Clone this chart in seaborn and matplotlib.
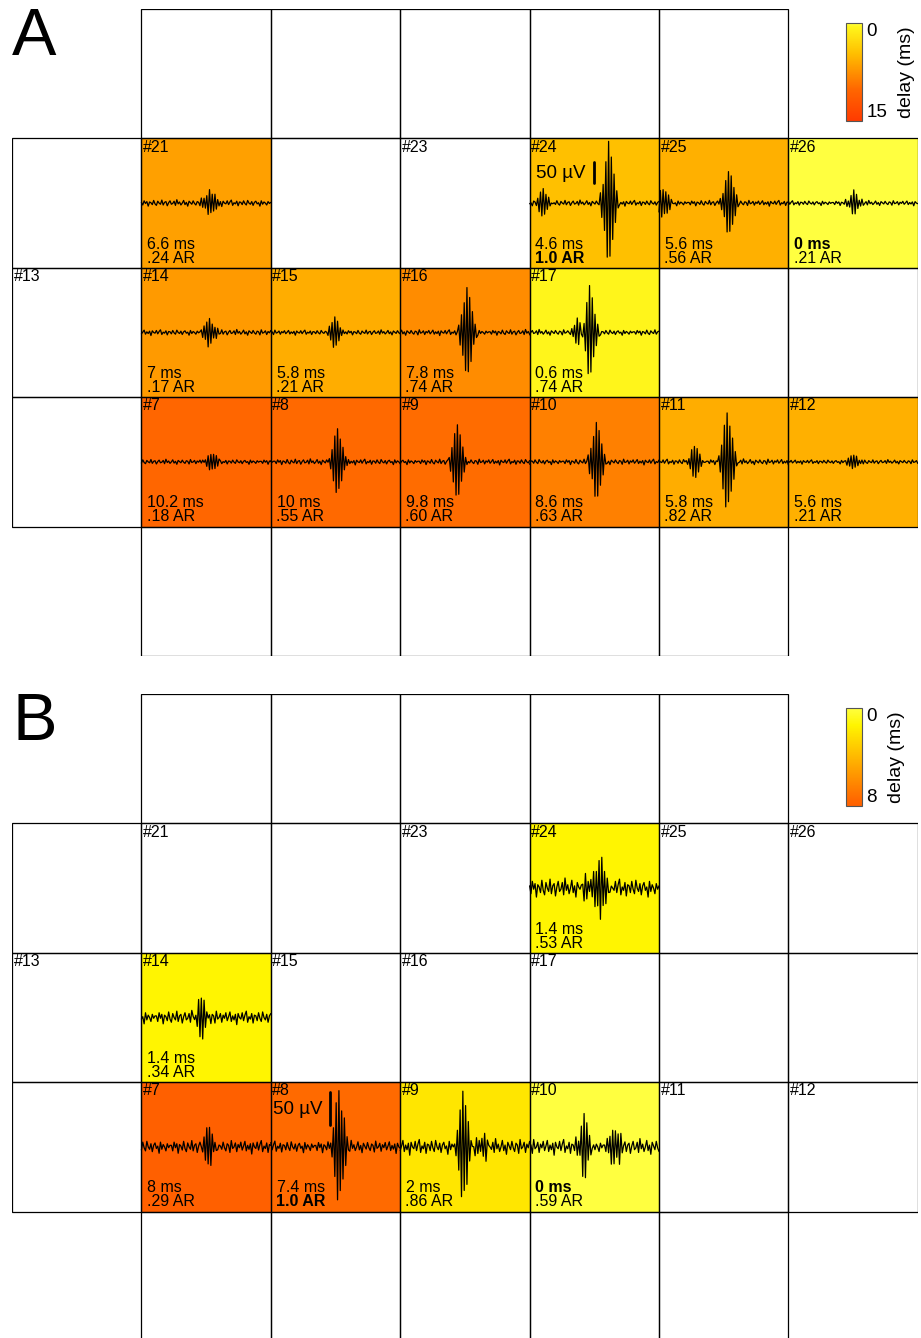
import numpy as np
import pandas as pd
import matplotlib
matplotlib.use("Agg")
import matplotlib.pyplot as plt
from matplotlib.patches import Rectangle
from matplotlib.colors import LinearSegmentedColormap
import seaborn as sns

# electrode grid: 5 rows x 7 columns, 1 = electrode present
GRID = [
    [0, 1, 1, 1, 1, 1, 0],
    [1, 1, 1, 1, 1, 1, 1],
    [1, 1, 1, 1, 1, 1, 1],
    [1, 1, 1, 1, 1, 1, 1],
    [0, 1, 1, 1, 1, 1, 0],
]
LABELED = [21, 23, 24, 25, 26, 13, 14, 15, 16, 17, 7, 8, 9, 10, 11, 12]

# panel A
A_CHANNELS = [21, 24, 25, 26, 14, 15, 16, 17, 7, 8, 9, 10, 11, 12]
A_DELAY = [6.6, 4.6, 5.6, 0, 7, 5.8, 7.8, 0.6, 10.2, 10, 9.8, 8.6, 5.8, 5.6]
A_AR = [".24", "1.0", ".56", ".21", ".17", ".21", ".74", ".74", ".18", ".55", ".60", ".63", ".82", ".21"]
A_SPIKE_POS = [0.52, 0.60, 0.53, 0.50, 0.52, 0.49, 0.51, 0.46, 0.53, 0.51, 0.44, 0.51, 0.52, 0.50]
A_SPIKE_UV = [33, 143, 79, 26, 31, 33, 107, 107, 24, 79, 86, 90, 119, 19]
A_NOISE_UV = [9, 8, 8, 7, 8, 7, 8, 8, 7, 8, 8, 8, 8, 6]
A_EXTRA_CH = [24, 25, 17, 11]
A_EXTRA_POS = [0.10, 0.03, 0.36, 0.27]
A_EXTRA_UV = [33, 36, 29, 36]

# panel B
B_CHANNELS = [24, 14, 7, 8, 9, 10]
B_DELAY = [1.4, 1.4, 8, 7.4, 2, 0]
B_AR = [".53", ".34", ".29", "1.0", ".86", ".59"]
B_SPIKE_POS = [0.55, 0.46, 0.52, 0.52, 0.48, 0.42]
B_SPIKE_UV = [45, 27, 26, 83, 76, 45]
B_NOISE_UV = [17, 12, 12, 11, 14, 14]
B_EXTRA_CH = [24, 10, 9]
B_EXTRA_POS = [0.45, 0.66, 0.62]
B_EXTRA_UV = [22, 30, 20]

# hand-read baseline wiggle and burst shape (normalised)
NOISE = [0.2, -0.5, 0.6, -0.1, 0.4, -0.8, 0.3, 0.1, -0.4, 0.7, -0.2, -0.6, 0.5, 0.0, -0.3, 0.8, -0.5, 0.2, 0.4, -0.7,
         0.1, 0.6, -0.3, -0.1, 0.5, -0.6, 0.9, -0.2, 0.3, -0.5, 0.0, 0.7, -0.4, 0.2, -0.8, 0.5, 0.1, -0.3, 0.6, -0.1,
         -0.5, 0.4, 0.2, -0.7, 0.8, -0.2, 0.0, 0.5, -0.6, 0.3, -0.1, 0.6, -0.4, 0.1, 0.7, -0.5, 0.2, -0.3, 0.4, -0.9,
         0.5, 0.0, -0.2, 0.6, -0.4, 0.3, 0.8, -0.6, 0.1, -0.2, 0.5, -0.7, 0.3, 0.2, -0.4, 0.6, -0.1, -0.5, 0.7, 0.0,
         -0.3, 0.4, -0.6, 0.2, 0.5, -0.2, 0.1, -0.8, 0.6, -0.3, 0.3, 0.0, -0.5, 0.4, -0.1, 0.2]
BURST = [0.15, -0.25, 0.35, -0.5, 0.7, -0.9, 1.0, -0.85, 0.75, -0.6, 0.45, -0.3, 0.2, -0.12]

W, H = 921, 1338
CELL = 129.4

sns.set_style("white")
plt.rcParams["font.family"] = ["Liberation Sans", "DejaVu Sans"]
plt.rcParams["text.color"] = "black"
plt.rcParams["ytick.color"] = "black"
plt.rcParams["axes.labelcolor"] = "black"

fig = plt.figure(figsize=(W / 100, H / 100), dpi=100)


def cell_of(ch):
    return 3 - (ch - 6) // 7, (ch - 6) % 7


def add_burst(trace, frac, amp):
    n = len(trace)
    start = int(round(frac * n)) - 6
    for k, b in enumerate(BURST):
        if 0 <= start + k < n:
            trace[start + k] += amp * b


def draw_panel(top_px, cbar_top_px, letter, channels, delays, ars, spos, suv, nuv,
               ex_ch, ex_pos, ex_uv, vmax, colors, px_per_uv, bar_ch, bar_txt_dx, bar_dx, bar_cy):
    ax = fig.add_axes([12 / W, 1 - (top_px + 5 * CELL) / H, 7 * CELL / W, 5 * CELL / H])
    cax = fig.add_axes([846 / W, 1 - (cbar_top_px + 98) / H, 16 / W, 98 / H])

    delay_grid = np.full((5, 7), np.nan)
    for ch, d in zip(channels, delays):
        r, c = cell_of(ch)
        delay_grid[r, c] = d
    df = pd.DataFrame(delay_grid)
    cmap = LinearSegmentedColormap.from_list(letter, colors)
    sns.heatmap(df, ax=ax, cbar_ax=cax, cmap=cmap, vmin=0, vmax=vmax,
                xticklabels=False, yticklabels=False)
    ax.set_xlim(0, 7)
    ax.set_ylim(5, 0)

    # cell borders
    for r in range(5):
        for c in range(7):
            if GRID[r][c]:
                ax.add_patch(Rectangle((c, r), 1, 1, fill=False, ec="black", lw=0.9, zorder=2))

    for ch in LABELED:
        r, c = cell_of(ch)
        ax.text(c + 0.012, r + 0.01, f"#{ch}", fontsize=11.5, va="top", ha="left", zorder=4)

    scale = px_per_uv / CELL
    n = len(NOISE)
    for i, ch in enumerate(channels):
        r, c = cell_of(ch)
        trace = list(np.roll(np.array(NOISE) * nuv[i], 11 * i))
        add_burst(trace, spos[i], suv[i])
        for ech, ep, eu in zip(ex_ch, ex_pos, ex_uv):
            if ech == ch:
                add_burst(trace, ep, eu)
        x = np.linspace(c, c + 1, n)
        y = r + 0.5 - np.array(trace) * scale
        ax.plot(x, y, color="black", lw=0.9, zorder=3)
        ax.text(c + 0.045, r + 1 - 0.148, f"{delays[i]:g} ms", fontsize=11.5,
                fontweight="bold" if delays[i] == 0 else "normal", va="baseline", zorder=4)
        ax.text(c + 0.04, r + 1 - 0.04, f"{ars[i]} AR", fontsize=11.5,
                fontweight="bold" if ars[i] == "1.0" else "normal", va="baseline", zorder=4)

    # 50 uV scale bar
    r, c = cell_of(bar_ch)
    half = 25 * scale
    ax.plot([c + bar_dx, c + bar_dx], [r + bar_cy - half, r + bar_cy + half], color="black", lw=2, zorder=4)
    ax.text(c + bar_txt_dx, r + bar_cy + 0.045, "50 µV", fontsize=13.5, va="baseline", zorder=4)

    cbar = ax.collections[0].colorbar
    cbar.ax.invert_yaxis()
    cbar.set_ticks([0, vmax])
    cbar.set_ticklabels(["0", f"{vmax:g}"])
    cbar.ax.tick_params(length=0, pad=3, labelsize=13.5, labelcolor="black")
    tl = cbar.ax.get_yticklabels()
    tl[0].set_va("top")
    tl[1].set_va("bottom")
    cbar.outline.set_edgecolor("#555555")
    cbar.outline.set_linewidth(0.8)
    cbar.set_label("delay (ms)", fontsize=14, labelpad=8, color="black")

    fig.text(12 / W, 1 - (top_px - 2) / H, letter, fontsize=48, va="top", ha="left", color="black")


draw_panel(9, 23, "A", A_CHANNELS, A_DELAY, A_AR, A_SPIKE_POS, A_SPIKE_UV, A_NOISE_UV,
           A_EXTRA_CH, A_EXTRA_POS, A_EXTRA_UV, 15,
           [(0, "#ffff40"), (0.04, "#fff51a"), (0.31, "#ffbf00"), (0.44, "#ffa000"),
            (0.68, "#ff6600"), (1, "#ff3a00")], 21 / 50,
           24, 0.05, 0.5, 0.26)
draw_panel(694, 708, "B", B_CHANNELS, B_DELAY, B_AR, B_SPIKE_POS, B_SPIKE_UV, B_NOISE_UV,
           B_EXTRA_CH, B_EXTRA_POS, B_EXTRA_UV, 8,
           [(0, "#ffff40"), (0.175, "#fff500"), (0.25, "#ffe600"), (0.925, "#ff6a00"),
            (1, "#ff6000")], 33 / 50,
           8, 0.02, 0.46, 0.2)

fig.savefig("out.png", dpi=100)
